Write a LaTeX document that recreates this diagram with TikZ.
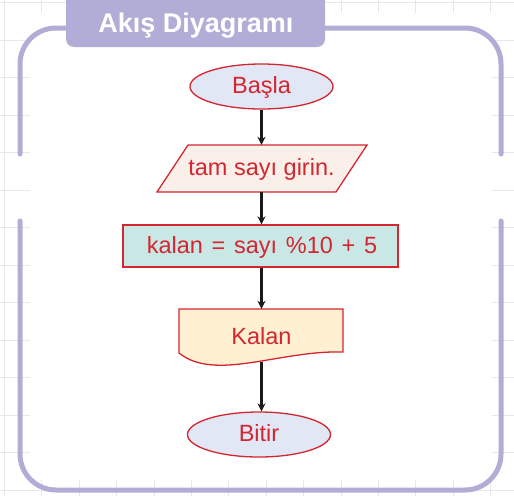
\documentclass[tikz,border=0pt]{standalone}
\usepackage{fontspec}
\setmainfont{Liberation Sans}
\usetikzlibrary{arrows.meta,shapes.geometric}
\definecolor{frameviolet}{HTML}{B1ADD6}
\definecolor{flowred}{HTML}{D42630}
\definecolor{gridgray}{HTML}{E8E8E8}
\definecolor{termfill}{HTML}{E1E7F4}
\definecolor{iofill}{HTML}{FBF0E9}
\definecolor{procfill}{HTML}{C9E8E5}
\definecolor{docfill}{HTML}{FFF0D2}
\definecolor{arrowblack}{HTML}{1A1A1A}
\newcommand{\wsp}{\hspace{8.7pt}}
\begin{document}
\begin{tikzpicture}[x=1pt,y=-1pt,
  lbl/.style={text=flowred, font=\fontsize{23.5}{28}\selectfont,
    text height=17pt, text depth=3pt, inner sep=0pt},
  edge/.style={draw=flowred, line width=1.3pt},
  term/.style={lbl, edge, ellipse, fill=termfill,
    minimum width=143pt, minimum height=45pt},
  proc/.style={lbl, edge, rectangle, fill=procfill,
    minimum width=275pt, minimum height=42pt},
  flow/.style={line width=2.2pt, draw=arrowblack,
    -{Stealth[length=8pt,width=8pt,inset=2.5pt]}},
  frame/.style={draw=frameviolet, line width=5pt, rounded corners=36pt,
    line cap=round}
]
\useasboundingbox (0,0) rectangle (514,496);

% background grid
\foreach \i in {0,...,13}
  \draw[gridgray, line width=0.8pt] (4.3+37.4*\i,0) -- ++(0,496);
\foreach \j in {0,...,13}
  \draw[gridgray, line width=0.8pt] (0,2.8+37.5*\j) -- ++(514,0);
\fill[white] (30,13) rectangle (492,480);

% outer frame, open on both sides
\draw[frame] (20,154) -- (20,28) -- (501,28) -- (501,154);
\draw[frame] (20,221) -- (20,490) -- (501,490) -- (501,221);

% title tab
\fill[frameviolet, rounded corners=8pt] (66,-12) rectangle (325,47);
\node[text=white, font=\bfseries\fontsize{27}{32}\selectfont,
  text height=19.5pt, text depth=0pt, inner sep=0pt] (title) at (196,22.9) {Akış Diyagramı};

% flowchart shapes
\node[term] (basla) at (261.5,86.5) {Başla};

\draw[edge, fill=iofill] (188,145) -- (367,145) -- (336,192) -- (157,192) -- cycle;
\node[lbl, minimum width=179pt, minimum height=47pt] (input) at (261.5,168.5) {tam sayı girin.};

\node[proc] (calc) at (260.5,246) {};
\node[lbl] (calctext) at (262,246) {kalan\wsp=\wsp sayı\wsp\%10\wsp+\wsp5};

\draw[edge, fill=docfill] (179,309) -- (343,309) -- (343,352)
  .. controls (280,350) and (215,382) .. (179,353) -- cycle;
\node[lbl, minimum width=164pt, minimum height=56pt] (kalan) at (261.5,337) {Kalan};
\coordinate (kalanbot) at (261.5,362);

\node[term] (bitir) at (259,434.5) {Bitir};

% connectors
\draw[flow] (basla) -- (input);
\draw[flow] (input) -- (input |- calc.north);
\draw[flow] (input |- calc.south) -- (kalan);
\draw[flow] (kalanbot) -- (kalanbot |- bitir.north);
\end{tikzpicture}
\end{document}
